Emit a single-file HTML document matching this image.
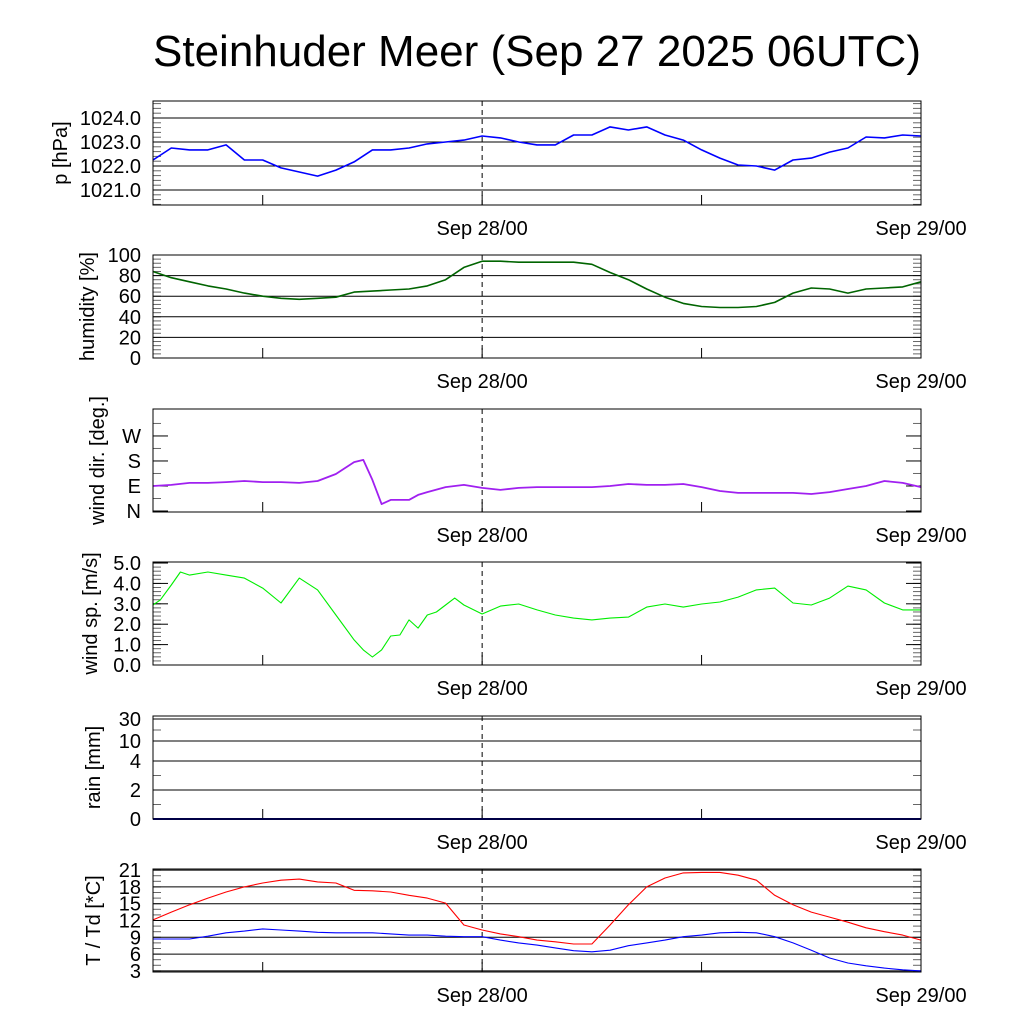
<!DOCTYPE html>
<html><head><meta charset="utf-8"><style>
html,body{margin:0;padding:0;background:#fff;}
svg{display:block;font-family:"Liberation Sans",sans-serif;}
</style></head><body>
<svg id="chart" width="1024" height="1024" viewBox="0 0 1024 1024">
<rect width="1024" height="1024" fill="#fff"/>
<text x="537" y="66" font-size="44" text-anchor="middle">Steinhuder Meer (Sep 27 2025 06UTC)</text>
</svg>
<script>
// hours since Sep 27 06UTC
const hourly = [0,1,2,3,4,5,6,7,8,9,10,11,12,13,14,15,16,17,18,19,20,21,22,23,24,25,26,27,28,29,30,31,32,33,34,35,36,37,38,39,40,41,42];
const pressure = [1022.25,1022.75,1022.67,1022.67,1022.88,1022.25,1022.25,1021.92,1021.75,1021.58,1021.83,1022.17,1022.67,1022.67,1022.75,1022.92,1023.0,1023.08,1023.25,1023.17,1023.0,1022.88,1022.88,1023.29,1023.29,1023.63,1023.5,1023.63,1023.29,1023.08,1022.67,1022.33,1022.04,1022.0,1021.83,1022.25,1022.33,1022.58,1022.75,1023.21,1023.17,1023.29,1023.25];
const humidity = [84,78,74,70,67,63,60,58,57,58,59,64,65,66,67,70,76,88,94,94,93,93,93,93,91,83,76,67,59,53,50,49,49,50,54,63,68,67,63,67,68,69,74];
const wdirHours = [0,1,2,3,4,5,6,7,8,9,10,11,11.5,12,12.5,13,14,14.5,15,16,17,18,19,20,21,22,23,24,25,26,27,28,29,30,31,32,33,34,35,36,37,38,39,40,41,42];
const wdir = [90,94,101,101,104,108,104,104,101,108,133,176,184,112,25,40,40,58,68,86,94,83,76,83,86,86,86,86,90,97,94,94,97,86,72,65,65,65,65,61,68,79,90,108,101,86];
const wspHours = [0,0.4,1,1.5,2,3,4,5,6,7,8,9,10,11,11.5,12,12.5,13,13.5,14,14.5,15,15.5,16,16.5,17,18,19,20,21,22,23,24,25,26,27,28,29,30,31,32,33,34,35,36,37,38,39,40,41,42];
const wsp = [2.94,3.19,3.92,4.56,4.41,4.56,4.41,4.26,3.77,3.04,4.26,3.68,2.45,1.23,0.74,0.39,0.74,1.42,1.47,2.21,1.81,2.45,2.6,2.94,3.28,2.94,2.5,2.89,2.99,2.7,2.45,2.3,2.21,2.3,2.35,2.84,2.99,2.84,2.99,3.09,3.33,3.68,3.77,3.04,2.94,3.28,3.87,3.68,3.04,2.7,2.7];
const rain = [0,0,0,0,0,0,0,0,0,0,0,0,0,0,0,0,0,0,0,0,0,0,0,0,0,0,0,0,0,0,0,0,0,0,0,0,0,0,0,0,0,0,0];
const temp = [12.1,13.5,14.8,16.0,17.1,18.0,18.7,19.2,19.4,18.9,18.7,17.4,17.3,17.1,16.5,16.0,15.1,11.2,10.3,9.6,9.1,8.5,8.2,7.8,7.8,11.2,14.8,18.0,19.6,20.5,20.6,20.6,20.1,19.2,16.5,14.8,13.5,12.6,11.7,10.7,10.0,9.4,8.5];
const dew = [8.7,8.7,8.7,9.2,9.8,10.1,10.5,10.3,10.1,9.9,9.8,9.8,9.8,9.6,9.4,9.4,9.2,9.1,9.1,8.5,8.0,7.6,7.1,6.6,6.4,6.7,7.5,8.0,8.5,9.1,9.4,9.8,9.9,9.8,9.1,8.0,6.7,5.3,4.4,3.9,3.5,3.2,3.0];
const xTickLabels = ["Sep 28/00","Sep 29/00"];
const xTickHours = [18,42];
const minorXHours = [6,30];
const pTicks = [1021,1022,1023,1024];
const hTicks = [0,20,40,60,80,100];
const dTicks = [0,90,180,270];
const dLabels = ["N","E","S","W"];
const sTicks = [0,1,2,3,4,5];
const rTicks = [0,2,4,10,30];
const tTicks = [3,6,9,12,15,18,21];

const NS="http://www.w3.org/2000/svg";
const svg=document.getElementById('chart');
const X0=153,X1=921,H0=0,H1=42;
function xs(h){return X0+(h-H0)/(H1-H0)*(X1-X0);}
function mk(tag,attrs,parent){const e=document.createElementNS(NS,tag);for(const k in attrs)e.setAttribute(k,attrs[k]);(parent||svg).appendChild(e);return e;}

function panel(name,top,bot,ymin,ymax,opts){
  const g=mk('g',{});
  
  
  const ys=opts.ys||(v=>bot-(v-ymin)/(ymax-ymin)*(bot-top));
  (opts.minor||[]).forEach(v=>{const y=ys(v);mk('line',{x1:X0,x2:X0+8,y1:y,y2:y,stroke:'#666','stroke-width':1},g);mk('line',{x1:X1-8,x2:X1,y1:y,y2:y,stroke:'#666','stroke-width':1},g);});
  opts.ticks.forEach((v,i)=>{
    const y=ys(v);
    if(opts.grid){const l=mk('line',{x1:X0,x2:X1,y1:y,y2:y,stroke:'#000','stroke-width':1},g);
      
      }
    else{mk('line',{x1:X0,x2:X0+15,y1:y,y2:y,stroke:'#000'},g);mk('line',{x1:X1-15,x2:X1,y1:y,y2:y,stroke:'#000'},g);}
    const t=mk('text',{x:141,y:y+7,'font-size':20,'text-anchor':'end'},g);
    t.textContent=opts.labels?opts.labels[i]:opts.fmt(v);
    
    
  });
  const dl=mk('line',{x1:xs(18),x2:xs(18),y1:top,y2:bot,stroke:'#000','stroke-dasharray':'5,4'},g);
  
  
  minorXHours.concat(xTickHours).forEach(h=>{mk('line',{x1:xs(h),x2:xs(h),y1:bot-10,y2:bot,stroke:'#000'},g);});
  opts.series.forEach(s=>{
    let d='';s.h.forEach((h,i)=>{d+=(i?'L':'M')+xs(h).toFixed(1)+','+ys(s.v[i]).toFixed(1);});
    const p=mk('path',{d:d,fill:'none',stroke:s.c,'stroke-width':s.w||1.3,'stroke-linejoin':'round'},g);
    
    
  });
  const r=mk('rect',{x:X0,y:top,width:X1-X0,height:bot-top,fill:'none',stroke:'#000','stroke-width':1},g);
  
  
  const yl=mk('text',{x:0,y:0,'font-size':20,'text-anchor':'middle',transform:`translate(${opts.ylx||66},${(top+bot)/2}) rotate(-90)`},g);
  yl.textContent=opts.ylabel;
  
  
  xTickLabels.forEach((lab,i)=>{const t=mk('text',{x:xs(xTickHours[i]),y:bot+30,'font-size':20,'text-anchor':'middle'},g);t.textContent=lab;
    
    });
}
function range(a,b,s){const r=[];for(let v=a;v<=b+1e-9;v+=s)r.push(+v.toFixed(3));return r;}

panel('pressure',101,205,1020.375,1024.708,{ticks:pTicks,grid:true,fmt:v=>v.toFixed(1),minor:range(1020.4,1024.6,0.2),ylabel:'p [hPa]',ylx:67,
  series:[{h:hourly,v:pressure,c:'#0000ff',n:'pressure-line',w:1.6}]});
panel('humidity',255,358,0,100,{ticks:hTicks,grid:true,fmt:v=>String(v),minor:range(0,100,4),ylabel:'humidity [%]',ylx:94,
  series:[{h:hourly,v:humidity,c:'#006400',n:'humidity-line',w:1.6}]});
panel('wind-dir',409,512,-3.6,367,{ticks:dTicks,labels:dLabels,grid:false,minor:range(45,360,90),ylabel:'wind dir. [deg.]',ylx:104,
  series:[{h:wdirHours,v:wdir,c:'#a020f0',n:'wind-direction-line',w:1.8}]});
panel('wind-speed',562,665,0,5.05,{ticks:sTicks,grid:false,fmt:v=>v.toFixed(1),minor:range(0,5,0.2),ylabel:'wind sp. [m/s]',ylx:97,
  series:[{h:wspHours,v:wsp,c:'#00ee00',n:'wind-speed-line',w:1.1}]});
const rainMap=v=>{const pts=[[0,819],[2,790],[4,761],[10,741],[30,719]];for(let i=1;i<pts.length;i++){if(v<=pts[i][0]){const a=pts[i-1],b=pts[i];return a[1]+(v-a[0])/(b[0]-a[0])*(b[1]-a[1]);}}return 716;};
panel('rain',716,819,0,30,{ticks:rTicks,grid:true,fmt:v=>String(v),minor:[1,3,20],ys:rainMap,ylabel:'rain [mm]',ylx:100,
  series:[{h:hourly,v:rain,c:'#00008b',n:'rain-line',w:2}]});
panel('temperature',869,972,2.8,21.2,{ticks:tTicks,grid:true,fmt:v=>String(v),minor:range(3,21,1),ylabel:'T / Td [*C]',ylx:100,
  series:[{h:hourly,v:temp,c:'#ff0000',n:'temperature-line',w:1.1},{h:hourly,v:dew,c:'#0000ff',n:'dewpoint-line',w:1.1}]});
</script>
</body></html>
